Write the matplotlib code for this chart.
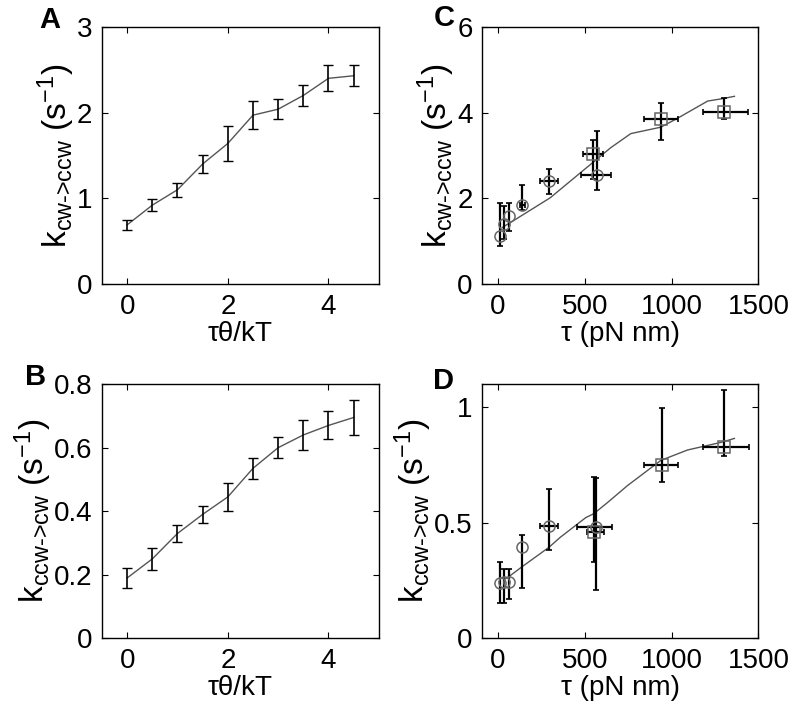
import numpy as np
import matplotlib.pyplot as plt

plt.rcParams['font.family'] = ['Liberation Sans', 'DejaVu Sans']
plt.rcParams['mathtext.fontset'] = 'custom'
plt.rcParams['mathtext.rm'] = 'Liberation Sans'
plt.rcParams['mathtext.it'] = 'Liberation Sans'

# panel A / B : rate vs torque*theta/kT
theta_x = [0, 0.5, 1, 1.5, 2, 2.5, 3, 3.5, 4, 4.5]
a_y = [0.69, 0.92, 1.10, 1.40, 1.64, 1.97, 2.04, 2.20, 2.40, 2.43]
a_err = [0.06, 0.07, 0.08, 0.11, 0.20, 0.165, 0.12, 0.12, 0.15, 0.12]
b_y = [0.19, 0.25, 0.33, 0.39, 0.445, 0.535, 0.60, 0.64, 0.67, 0.695]
b_err = [0.032, 0.034, 0.028, 0.027, 0.044, 0.034, 0.033, 0.046, 0.044, 0.055]

# panel C : circles and squares (value, lower, upper, x lower, x upper)
c_circ_x = [9, 35, 61, 139, 292, 568]
c_circ_y = [1.13, 1.40, 1.58, 1.85, 2.41, 2.55]
c_circ_lo = [0.88, 1.05, 1.23, 1.73, 2.10, 2.19]
c_circ_hi = [1.89, 1.81, 1.89, 2.31, 2.69, 3.57]
c_circ_xlo = [9, 35, 61, 125, 240, 480]
c_circ_xhi = [9, 35, 61, 153, 345, 653]
c_sq_x = [549, 938, 1304]
c_sq_y = [3.04, 3.86, 4.01]
c_sq_lo = [2.45, 3.36, 3.84]
c_sq_hi = [3.37, 4.22, 4.35]
c_sq_xlo = [489, 842, 1179]
c_sq_xhi = [607, 1035, 1439]
c_fit_x = [25, 90, 300, 476, 649, 765, 938, 1035, 1208, 1285, 1362]
c_fit_y = [1.32, 1.48, 2.01, 2.60, 3.18, 3.51, 3.66, 3.87, 4.27, 4.32, 4.38]

# panel D
d_circ_x = [9, 35, 61, 139, 292, 562]
d_circ_y = [0.24, 0.244, 0.245, 0.395, 0.485, 0.48]
d_circ_lo = [0.154, 0.154, 0.168, 0.218, 0.384, 0.208]
d_circ_hi = [0.33, 0.30, 0.30, 0.446, 0.647, 0.695]
d_circ_xlo = [9, 35, 61, 139, 240, 457]
d_circ_xhi = [9, 35, 61, 139, 345, 654]
d_sq_x = [553, 942, 1304]
d_sq_y = [0.46, 0.75, 0.829]
d_sq_lo = [0.33, 0.676, 0.79]
d_sq_hi = [0.70, 0.997, 1.073]
d_sq_xlo = [514, 842, 1179]
d_sq_xhi = [610, 1038, 1443]
d_fit_x = [50, 139, 292, 360, 505, 553, 630, 746, 938, 1092, 1285, 1362]
d_fit_y = [0.26, 0.31, 0.393, 0.438, 0.522, 0.54, 0.587, 0.661, 0.77, 0.815, 0.848, 0.865]

fig = plt.figure(figsize=(8, 7.18), dpi=100)
axA = fig.add_axes([0.1275, 0.6045, 0.346, 0.358])
axC = fig.add_axes([0.603, 0.6045, 0.345, 0.358])
axB = fig.add_axes([0.1275, 0.111, 0.346, 0.354])
axD = fig.add_axes([0.603, 0.111, 0.345, 0.354])

fs = 20
lab_a = r'k$_{\mathregular{cw\text{->}ccw}}$ (s$^{\mathregular{-1}}$)'
lab_b = r'k$_{\mathregular{ccw\text{->}cw}}$ (s$^{\mathregular{-1}}$)'


def style(ax, letter, lx, ly, xlabel, ylabel):
    ax.tick_params(direction='in', length=4, width=0.8, top=True, right=True,
                   labelsize=fs, pad=7)
    for s in ax.spines.values():
        s.set_linewidth(1.0)
    ax.set_xlabel(xlabel, fontsize=fs, labelpad=1)
    ax.set_ylabel(ylabel, fontsize=fs + 4, labelpad=0)
    ax.text(lx, ly, letter, transform=ax.transAxes, fontsize=21,
            fontweight='bold', va='center', ha='center')


for ax, y, err in [(axA, a_y, a_err), (axB, b_y, b_err)]:
    ax.plot(theta_x, y, color='#555555', lw=1.0)
    ax.errorbar(theta_x, y, yerr=err, fmt='none', ecolor='black',
                elinewidth=1.2, capsize=3.5, capthick=1.0)
    ax.set_xlim(-0.5, 5)
    ax.set_xticks([0, 2, 4])

axA.set_ylim(0, 3)
axA.set_yticks([0, 1, 2, 3])
axB.set_ylim(0, 0.8)
axB.set_yticks([0, 0.2, 0.4, 0.6, 0.8])
axB.set_yticklabels(['0', '0.2', '0.4', '0.6', '0.8'])


def points(ax, x, y, lo, hi, xlo, xhi, marker):
    x = np.array(x, float)
    y = np.array(y, float)
    yerr = [y - np.array(lo), np.array(hi) - y]
    ax.errorbar(x, y, yerr=yerr, fmt='none', ecolor='black',
                elinewidth=1.6, capsize=2.5, capthick=1.2, zorder=3)
    has = np.array(xhi) - np.array(xlo) > 0
    xerr = [x[has] - np.array(xlo)[has], np.array(xhi)[has] - x[has]]
    ax.errorbar(x[has], y[has], xerr=xerr, fmt='none', ecolor='black',
                elinewidth=1.6, capsize=2.5, capthick=1.2, zorder=3)
    ax.plot(x, y, ls='none', marker=marker, ms=8, mfc='none',
            mec='#666666', mew=1.1, zorder=4)


axC.plot(c_fit_x, c_fit_y, color='#555555', lw=1.0, zorder=2)
points(axC, c_circ_x, c_circ_y, c_circ_lo, c_circ_hi, c_circ_xlo, c_circ_xhi, 'o')
points(axC, c_sq_x, c_sq_y, c_sq_lo, c_sq_hi, c_sq_xlo, c_sq_xhi, 's')
axC.set_ylim(0, 6)
axC.set_yticks([0, 2, 4, 6])

axD.plot(d_fit_x, d_fit_y, color='#555555', lw=1.0, zorder=2)
points(axD, d_circ_x, d_circ_y, d_circ_lo, d_circ_hi, d_circ_xlo, d_circ_xhi, 'o')
points(axD, d_sq_x, d_sq_y, d_sq_lo, d_sq_hi, d_sq_xlo, d_sq_xhi, 's')
axD.set_ylim(0, 1.1)
axD.set_yticks([0, 0.5, 1])
axD.set_yticklabels(['0', '0.5', '1'])

for ax in (axC, axD):
    ax.set_xlim(-90, 1500)
    ax.set_xticks([0, 500, 1000, 1500])

style(axA, 'A', -0.19, 1.027, 'τθ/kT', lab_a)
style(axB, 'B', -0.24, 1.03, 'τθ/kT', lab_b)
style(axC, 'C', -0.14, 1.035, 'τ (pN nm)', lab_a)
style(axD, 'D', -0.14, 1.012, 'τ (pN nm)', lab_b)

fig.savefig('out.png', dpi=100)
